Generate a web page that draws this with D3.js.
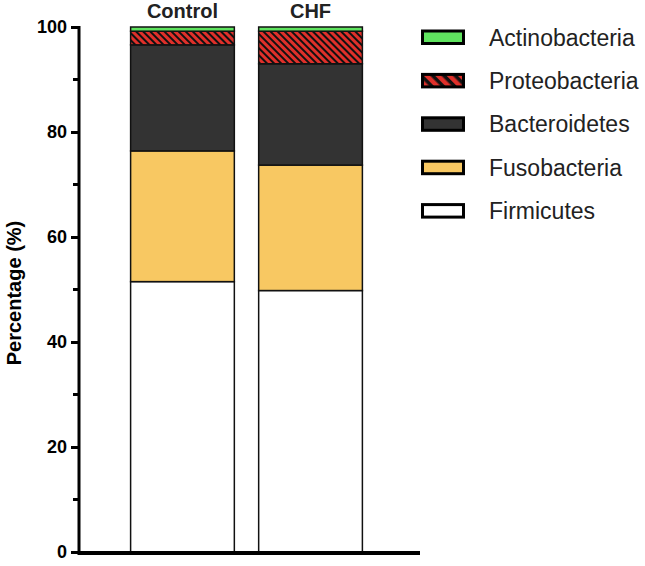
<!DOCTYPE html>
<html><head><meta charset="utf-8">
<script src="https://cdn.jsdelivr.net/npm/d3@7"></script>
<style>body{margin:0;background:#fff;}svg{display:block;}</style>
</head><body>
<script>
const groups = ["Control", "CHF"];
const phyla = ["Firmicutes", "Fusobacteria", "Bacteroidetes", "Proteobacteria", "Actinobacteria"];
const firmicutes = [51.5, 49.8];
const fusobacteria = [24.9, 23.9];
const bacteroidetes = [20.2, 19.3];
const proteobacteria = [2.6, 6.2];
const actinobacteria = [0.8, 0.8];
const yTicks = [0, 20, 40, 60, 80, 100];
const legendOrder = ["Actinobacteria", "Proteobacteria", "Bacteroidetes", "Fusobacteria", "Firmicutes"];

const seriesVals = {Firmicutes: firmicutes, Fusobacteria: fusobacteria, Bacteroidetes: bacteroidetes, Proteobacteria: proteobacteria, Actinobacteria: actinobacteria};
const colors = {Firmicutes: "#ffffff", Fusobacteria: "#f8c862", Bacteroidetes: "#333333", Proteobacteria: "url(#hatch)", Actinobacteria: "#5fe35f"};
const legendFill = {Firmicutes: "#ffffff", Fusobacteria: "#f8c862", Bacteroidetes: "#333333", Proteobacteria: "url(#hatchL)", Actinobacteria: "#5fe35f"};

const W = 645, H = 566;
const svg = d3.select("body").append("svg").attr("width", W).attr("height", H);
const defs = svg.append("defs");
function hatch(id, size, sw) {
  const p = defs.append("pattern").attr("id", id).attr("patternUnits", "userSpaceOnUse")
    .attr("width", size).attr("height", size).attr("patternTransform", "rotate(45)");
  p.append("rect").attr("width", size).attr("height", size).attr("fill", "#e0302a");
  p.append("rect").attr("width", size).attr("height", sw).attr("fill", "#111");
}
hatch("hatch", 5, 2);
hatch("hatchL", 8, 3.5);

const y = d3.scaleLinear().domain([0, 100]).range([552, 27]);
const x = d3.scaleBand().domain(groups).range([105, 388]).paddingInner(0.19).paddingOuter(0.2);

const data = groups.map((g, i) => { const o = {group: g}; phyla.forEach(p => o[p] = seriesVals[p][i]); return o; });
const stacked = d3.stack().keys(phyla)(data);

stacked.forEach(layer => {
  svg.append("g").selectAll("rect").data(layer).join("rect")
    .attr("x", d => x(d.data.group))
    .attr("width", x.bandwidth())
    .attr("y", d => y(Math.min(d[1], 100)))
    .attr("height", d => y(d[0]) - y(Math.min(d[1], 100)))
    .attr("fill", colors[layer.key])
    .attr("stroke", "#111").attr("stroke-width", 1.5);
});

// group labels on top
svg.append("g").selectAll("text").data(groups).join("text")
  .attr("x", d => x(d) + x.bandwidth() / 2).attr("y", 17.5)
  .attr("text-anchor", "middle")
  .style("font-family", "Liberation Sans, Arial, sans-serif").style("font-weight", "bold").style("font-size", "20px")
  .attr("fill", "#222").text(d => d);

// y axis
const yAxis = svg.append("g").attr("transform", "translate(79,0)")
  .call(d3.axisLeft(y).tickValues(yTicks).tickSize(8).tickPadding(4).tickFormat(d3.format("d")));
yAxis.select(".domain").attr("stroke", "#000").attr("stroke-width", 3).attr("d", "M0,26V553.5");
yAxis.selectAll(".tick line").attr("stroke", "#000").attr("stroke-width", 3);
yAxis.selectAll(".tick text").style("font-family", "Liberation Sans, Arial, sans-serif")
  .style("font-weight", "bold").style("font-size", "18px").attr("fill", "#000");
// minor ticks
const minor = d3.range(10, 100, 20);
yAxis.append("g").selectAll("line").data(minor).join("line")
  .attr("x1", -6).attr("x2", 0).attr("y1", d => y(d)).attr("y2", d => y(d))
  .attr("stroke", "#000").attr("stroke-width", 3);

// x axis baseline
svg.append("line").attr("x1", 77.5).attr("x2", 420).attr("y1", 553).attr("y2", 553)
  .attr("stroke", "#000").attr("stroke-width", 4);

// y title
svg.append("text").attr("transform", "translate(21,293) rotate(-90)").attr("text-anchor", "middle")
  .style("font-family", "Liberation Sans, Arial, sans-serif").style("font-weight", "bold").style("font-size", "20px")
  .attr("fill", "#000").text("Percentage (%)");

// legend
const lg = svg.append("g").selectAll("g").data(legendOrder).join("g")
  .attr("transform", (d, i) => `translate(421,${29.5 + i * 43.4})`);
lg.append("rect").attr("x", 1.5).attr("y", 1.5).attr("width", 41).attr("height", 12.5)
  .attr("fill", d => legendFill[d]).attr("stroke", "#000").attr("stroke-width", 3);
lg.append("text").attr("x", 68).attr("y", 8).attr("dy", "0.35em")
  .style("font-family", "Liberation Sans, Arial, sans-serif").style("font-size", "23px")
  .attr("fill", "#222").text(d => d);
</script>
</body></html>
